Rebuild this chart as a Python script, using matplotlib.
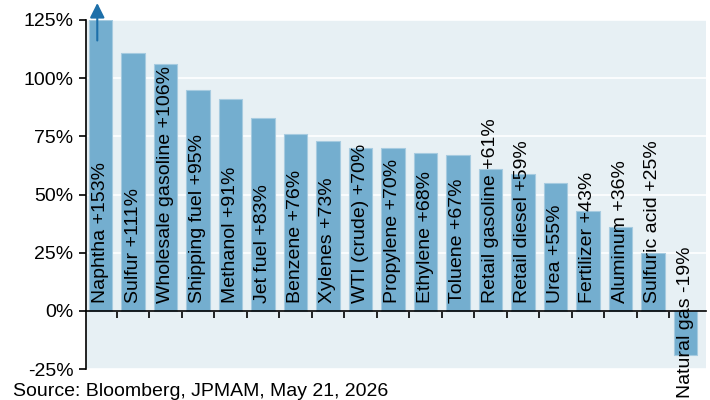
import matplotlib.pyplot as plt
import numpy as np

plt.rcParams['font.family'] = ['Liberation Sans', 'DejaVu Sans']

# data
names = ['Naphtha', 'Sulfur', 'Wholesale gasoline', 'Shipping fuel', 'Methanol',
         'Jet fuel', 'Benzene', 'Xylenes', 'WTI (crude)', 'Propylene', 'Ethylene',
         'Toluene', 'Retail gasoline', 'Retail diesel', 'Urea', 'Fertilizer',
         'Aluminum', 'Sulfuric acid', 'Natural gas']
changes = [153, 111, 106, 95, 91, 83, 76, 73, 70, 70, 68, 67, 61, 59, 55, 43, 36, 25, -19]
y_ticks = [-25, 0, 25, 50, 75, 100, 125]

y_min, y_max = -25, 125

fig = plt.figure(figsize=(7.1, 4.0), dpi=100)
ax = fig.add_axes([0.121, 0.0775, 0.874, 0.8725])
ax.set_facecolor('#e7f0f4')

x = np.arange(len(names))
shown = np.clip(changes, y_min, y_max)
ax.bar(x, shown, width=0.72, color='#74aecf', edgecolor='#a6cbe0', linewidth=0.8, zorder=2)

for i, (n, v) in enumerate(zip(names, changes)):
    sign = '+' if v > 0 else '-'
    base = 3.5 if v > 0 else -37.5
    ax.text(i, base, f'{n} {sign}{abs(v)}%', rotation=90, ha='center', va='bottom',
            fontsize=14, color='black', zorder=4, clip_on=False)

# arrow for the value that runs off the scale
ax.annotate('', xy=(-0.1, 133.5), xytext=(-0.1, 115),
            arrowprops=dict(arrowstyle='-|>', color='#1d6fa9', lw=1.5, mutation_scale=22),
            annotation_clip=False, zorder=5)

ax.set_xlim(-0.45, len(names) - 0.35)
ax.set_ylim(y_min, y_max)
ax.set_yticks(y_ticks)
ax.set_yticklabels([f'{t}%' for t in y_ticks], fontsize=14)
ax.yaxis.grid(True, color='white', lw=1.2, zorder=1)
ax.set_axisbelow(True)

ax.spines['top'].set_visible(False)
ax.spines['right'].set_visible(False)
ax.spines['bottom'].set_position(('data', 0))
ax.spines['left'].set_linewidth(1.2)
ax.spines['bottom'].set_linewidth(1.2)
ax.spines['bottom'].set_zorder(3)

ax.set_xticks(x[:-1] + 0.5)
ax.set_xticklabels([])
ax.tick_params(axis='x', direction='out', length=5, width=1.2)
ax.tick_params(axis='y', direction='out', length=5, width=1.2, pad=4)

fig.text(0.018, 0.0, 'Source: Bloomberg, JPMAM, May 21, 2026', fontsize=14, va='bottom')

fig.savefig('out.png', dpi=100)
